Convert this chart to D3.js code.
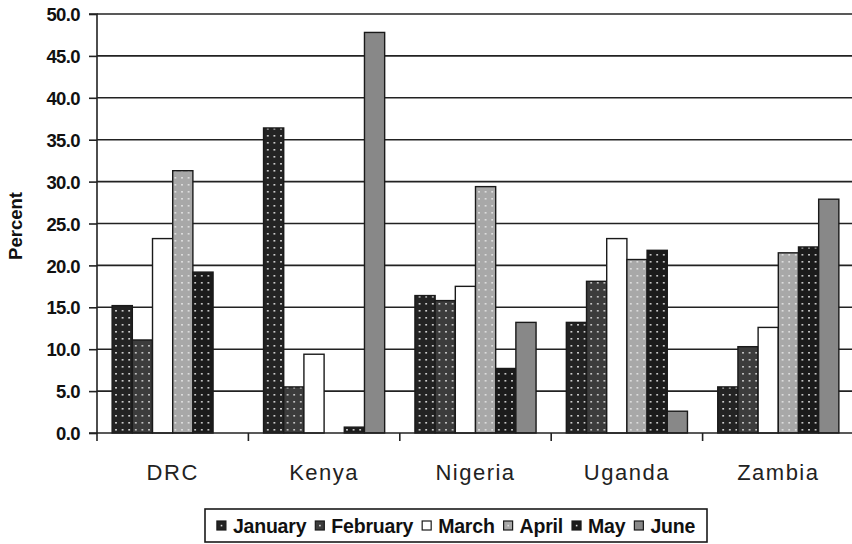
<!DOCTYPE html>
<html><head><meta charset="utf-8">
<script src="https://cdn.jsdelivr.net/npm/d3@7"></script>
<style>body{margin:0;background:#fff;} svg{display:block;}</style>
</head><body>
<svg id="c" width="852" height="544"></svg>
<script>
const countries = ["DRC","Kenya","Nigeria","Uganda","Zambia"];
const months = ["January","February","March","April","May","June"];
const january  = [15.2, 36.4, 16.4, 13.2, 5.5];
const february = [11.1, 5.5, 15.8, 18.1, 10.3];
const march    = [23.2, 9.4, 17.5, 23.2, 12.6];
const april    = [31.3, null, 29.4, 20.7, 21.5];
const may      = [19.2, 0.7, 7.7, 21.8, 22.2];
const june     = [null, 47.8, 13.2, 2.6, 27.9];
const yTicks = [0,5,10,15,20,25,30,35,40,45,50];
const series = [january, february, march, april, may, june];

const svg = d3.select("#c");
const W = 852, H = 544;
const x0 = 97, x1 = 854, yB = 433, yT = 14;

// patterns
const defs = svg.append("defs");
const styles = [
  {fill:"#232323", dot:"#e8e8e8", pat:true},
  {fill:"#3c3c3c", dot:"#d8d8d8", pat:true},
  {fill:"#ffffff", pat:false},
  {fill:"#a8a8a8", dot:"#e6e6e6", pat:true},
  {fill:"#1b1b1b", dot:"#e0e0e0", pat:true},
  {fill:"#888888", pat:false}
];
styles.forEach((s,i)=>{
  if(!s.pat){ s.url = s.fill; return; }
  const p = defs.append("pattern").attr("id","p"+i).attr("patternUnits","userSpaceOnUse")
    .attr("width",6.6).attr("height",7).attr("x",0).attr("y",yB);
  p.append("rect").attr("width",6.6).attr("height",7).attr("fill",s.fill);
  p.append("rect").attr("x",3).attr("y",3).attr("width",1.6).attr("height",1.6).attr("fill",s.dot);
  s.url = "url(#p"+i+")";
});

const x = d3.scaleBand().domain(countries).range([x0, x1]).paddingInner(0).paddingOuter(0);
const y = d3.scaleLinear().domain([0,50]).range([yB, yT]);

// gridlines
svg.append("g").selectAll("line").data(yTicks.filter(d=>d>0)).join("line")
  .attr("x1",x0).attr("x2",W).attr("y1",d=>y(d)).attr("y2",d=>y(d))
  .attr("stroke","#222").attr("stroke-width",1.6);

// bars
const bw = x.bandwidth()/7.5;
countries.forEach((c,ci)=>{
  series.forEach((s,si)=>{
    const v = s[ci];
    if(v==null) return;
    const bx = x(c) + bw*0.75 + si*bw;
    svg.append("rect").attr("x",bx).attr("y",y(v)).attr("width",bw).attr("height",yB-y(v))
      .attr("fill",styles[si].url).attr("stroke","#1a1a1a").attr("stroke-width",1.4);
  });
});

// y axis
const ya = d3.axisLeft(y).tickValues(yTicks).tickSize(8).tickFormat(d3.format(".1f"));
const yg = svg.append("g").attr("transform",`translate(${x0},0)`).call(ya);
yg.select(".domain").attr("stroke","#222").attr("stroke-width",1.6).attr("d",`M-8,${yT}H0V${yB}H-8`);
yg.selectAll(".tick line").attr("stroke","#222").attr("stroke-width",1.6);
yg.selectAll(".tick text").attr("x",-17).attr("dy","0.36em")
  .style("font-family","'Liberation Sans',Arial,sans-serif").style("font-weight","bold")
  .style("font-size","18.5px").attr("fill","#111").style("letter-spacing","-0.6px");

// x axis
const xa = d3.axisBottom(x).tickSize(0).tickFormat(d=>d);
const xg = svg.append("g").attr("transform",`translate(0,${yB})`).call(xa);
xg.select(".domain").attr("stroke","#222").attr("stroke-width",1.6).attr("d",`M${x0},0H${W}`);
xg.selectAll(".tick text").attr("y",47).attr("dy",0)
  .style("font-family","'Liberation Sans',Arial,sans-serif").style("font-size","22px")
  .style("letter-spacing","1.5px").attr("fill","#222");
// category separator ticks
xg.append("g").selectAll("line").data(countries.concat(["_end"])).join("line")
  .attr("x1",(d,i)=>x0+i*x.bandwidth()).attr("x2",(d,i)=>x0+i*x.bandwidth())
  .attr("y1",0).attr("y2",8).attr("stroke","#222").attr("stroke-width",1.6);

// y title
svg.append("text").attr("transform","translate(22,226) rotate(-90)").attr("text-anchor","middle")
  .style("font-family","'Liberation Sans',Arial,sans-serif").style("font-weight","bold")
  .style("font-size","18.5px").attr("fill","#111").text("Percent");

// legend
const lg = svg.append("g");
const items = lg.selectAll("g").data(months).join("g");
items.append("rect").attr("width",9).attr("height",9).attr("y",-12)
  .attr("fill",(d,i)=>styles[i].fill).attr("stroke","#1a1a1a").attr("stroke-width",1.2);
items.filter((d,i)=>styles[i].pat).append("rect").attr("x",3.8).attr("y",-8.2).attr("width",1.6).attr("height",1.6)
  .attr("fill","#ddd");
items.append("text").attr("x",16).attr("y",0)
  .style("font-family","'Liberation Sans',Arial,sans-serif").style("font-weight","bold")
  .style("font-size","19.5px").style("letter-spacing","-0.2px").attr("fill","#111").text(d=>d);
let cx = 0;
const gap = 9;
items.each(function(){
  const g = d3.select(this);
  g.attr("transform",`translate(${cx},0)`);
  const tw = g.select("text").node().getComputedTextLength();
  cx += 16 + tw + gap;
});
const totalW = cx - gap;
const boxL = 205, boxR = 707;
const startX = (boxL+boxR)/2 - totalW/2;
lg.attr("transform",`translate(${startX},533)`);
svg.append("rect").attr("x",boxL).attr("y",509).attr("width",boxR-boxL).attr("height",33)
  .attr("fill","none").attr("stroke","#1a1a1a").attr("stroke-width",1.6);
</script>
</body></html>
